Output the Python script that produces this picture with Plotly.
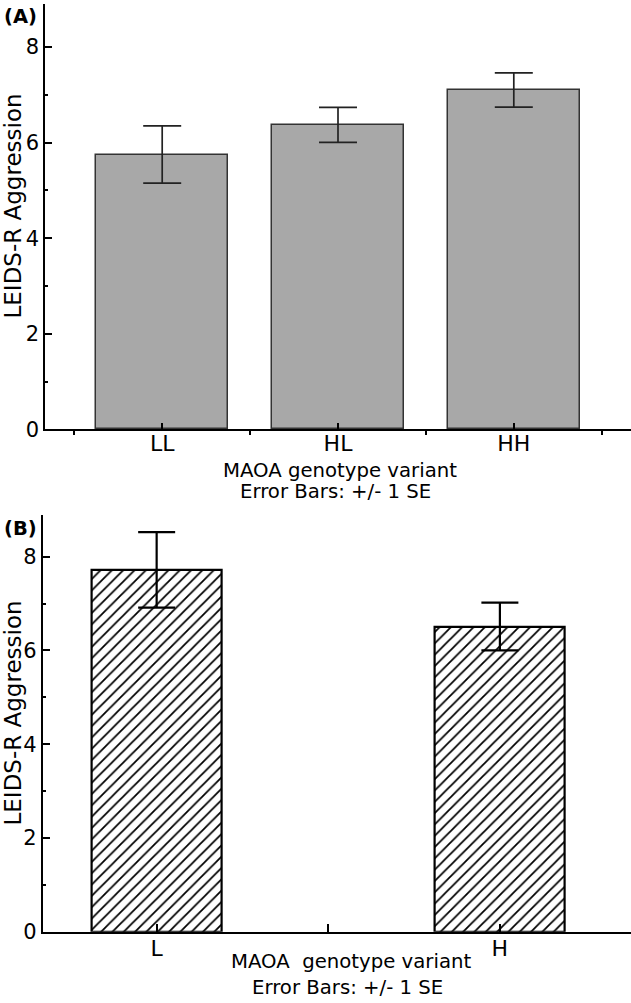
import plotly.graph_objects as go

# ---- data ----
genotypes_a = ["LL", "HL", "HH"]
means_a = [5.75, 6.37, 7.10]
se_a = [0.60, 0.365, 0.36]

genotypes_b = ["L", "H"]
means_b = [7.72, 6.51]
se_b = [0.805, 0.51]

y_ticks = [0, 2, 4, 6, 8]
y_minor = [1, 3, 5, 7]

W, H = 631, 1003
FONT = "DejaVu Sans, Liberation Sans, Arial"

def py(px):
    return 1 - px / H

def pxx(px):
    return px / W

fig = go.Figure()

pos_a = [1, 2, 3]
fig.add_trace(go.Bar(
    x=pos_a, y=means_a, width=0.75,
    marker=dict(color="#a8a8a8", line=dict(color="#333333", width=1.5)),
    error_y=dict(type="data", array=se_a, visible=True, color="#222222", thickness=1.7, width=19),
    xaxis="x", yaxis="y", showlegend=False,
))

pos_b = [1, 2]
fig.add_trace(go.Bar(
    x=pos_b, y=means_b, width=0.377,
    marker=dict(color="white", line=dict(color="black", width=2.2),
                pattern=dict(shape="/", fgcolor="black", bgcolor="white", size=8, solidity=0.22)),
    error_y=dict(type="data", array=se_b, visible=True, color="black", thickness=2.2, width=18.5),
    xaxis="x2", yaxis="y2", showlegend=False,
))

tickfont_x = dict(family=FONT, size=22, color="black")
tickfont_y = dict(family=FONT, size=21, color="black")

fig.update_layout(
    template="none",
    width=W, height=H,
    margin=dict(l=0, r=0, t=0, b=0, pad=0, autoexpand=False),
    paper_bgcolor="white", plot_bgcolor="white",
    bargap=0,
    xaxis=dict(
        domain=[pxx(45), 1], anchor="y", range=[1/3, 11/3], automargin=False,
        tickmode="array", tickvals=pos_a, ticktext=genotypes_a,
        ticks="inside", ticklen=7, tickwidth=1.5, tickcolor="black",
        minor=dict(tickmode="array", tickvals=[0.5, 1.5, 2.5, 3.5], ticks="outside",
                   ticklen=4, tickwidth=1.5, tickcolor="black", showgrid=False),
        showline=True, linecolor="black", linewidth=1.5, ticklabelstandoff=-6,
        showgrid=False, zeroline=False, tickfont=tickfont_x,
    ),
    yaxis=dict(
        domain=[py(429.3), py(4)], anchor="x", range=[0, 8.9], automargin=False,
        tickmode="array", tickvals=y_ticks,
        ticks="inside", ticklen=7, tickwidth=1.5, tickcolor="black",
        minor=dict(tickmode="array", tickvals=y_minor, ticks="inside",
                   ticklen=3.5, tickwidth=1.5, tickcolor="black", showgrid=False),
        showline=True, linecolor="black", linewidth=1.5,
        showgrid=False, zeroline=False, tickfont=tickfont_y,
    ),
    xaxis2=dict(
        domain=[pxx(42.7), 1], anchor="y2", range=[0.668, 2.382], automargin=False,
        tickmode="array", tickvals=[1, 1.5, 2], ticktext=[genotypes_b[0], "", genotypes_b[1]],
        ticks="inside", ticklen=7.5, tickwidth=2, tickcolor="black",
        showline=True, linecolor="black", linewidth=2, ticklabelstandoff=-4,
        showgrid=False, zeroline=False, tickfont=tickfont_x,
    ),
    yaxis2=dict(
        domain=[py(931.7), py(515)], anchor="x2", range=[0, 8.89], automargin=False,
        tickmode="array", tickvals=y_ticks,
        ticks="inside", ticklen=7, tickwidth=2, tickcolor="black",
        minor=dict(tickmode="array", tickvals=y_minor, ticks="inside",
                   ticklen=3.5, tickwidth=2, tickcolor="black", showgrid=False),
        showline=True, linecolor="black", linewidth=2,
        showgrid=False, zeroline=False, tickfont=tickfont_y,
    ),
)

def ann(text, x, y, size, bold=False, angle=0, xanchor="center", yanchor="middle"):
    fig.add_annotation(
        text=f"<b>{text}</b>" if bold else text,
        x=pxx(x), y=py(y), xref="paper", yref="paper",
        xanchor=xanchor, yanchor=yanchor, showarrow=False, textangle=angle,
        font=dict(family=FONT, size=size, color="black"),
    )

ann("(A)", 2, 17, 19.5, bold=True, xanchor="left")
ann("(B)", 2, 528, 19.5, bold=True, xanchor="left")

ann("MAOA genotype variant", 340, 470, 19.7)
ann("Error Bars: +/- 1 SE", 335, 492, 19.7)
ann("MAOA  genotype variant", 351, 961, 19.7)
ann("Error Bars: +/- 1 SE", 347.5, 987, 19.7)

ann("LEIDS-R Aggression", 12.5, 206, 23, angle=-90)
ann("LEIDS-R Aggression", 12.5, 713, 23, angle=-90)

fig.write_html(
    "out.html",
    config={"displayModeBar": False},
    post_script="document.body.style.margin='0';document.body.style.padding='0';document.body.style.overflow='hidden';",
)
